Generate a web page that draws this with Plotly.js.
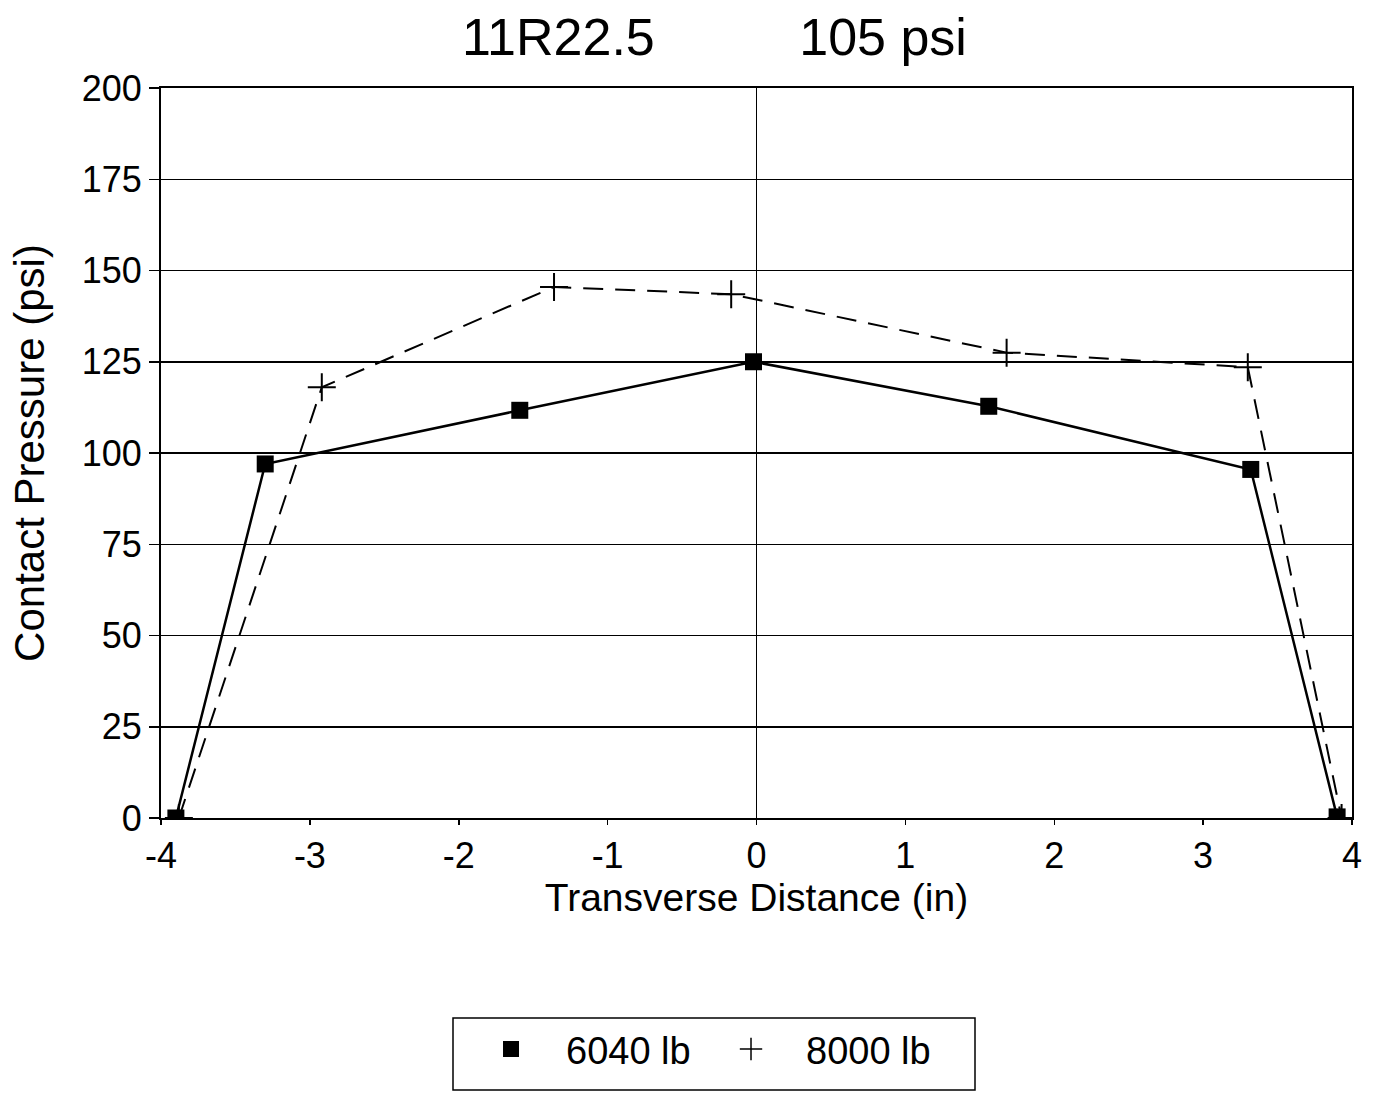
<!DOCTYPE html>
<html>
<head>
<meta charset="utf-8">
<script src="https://cdn.plot.ly/plotly-3.0.1.min.js"></script>
<style>html,body{margin:0;padding:0;background:#fff;}#chart{width:1382px;height:1093px;}</style>
</head>
<body>
<div id="chart"></div>
<script>
const seriesNames = ["6040 lb", "8000 lb"];
const x6040 = [-3.90, -3.30, -1.59, -0.02, 1.56, 3.32, 3.90];
const y6040 = [0, 97, 111.7, 125, 112.8, 95.5, 0.3];
const x8000 = [-3.88, -2.92, -1.36, -0.17, 1.68, 3.30, 3.93];
const y8000 = [0, 118, 145.5, 143.5, 127.5, 123.5, 0];
const xTicks = [-4, -3, -2, -1, 0, 1, 2, 3, 4];
const yTicks = [0, 25, 50, 75, 100, 125, 150, 175, 200];
const chartTitle = "11R22.5\u00A0\u00A0\u00A0\u00A0\u00A0\u00A0\u00A0\u00A0\u00A0\u00A0105 psi";
const xTitle = "Transverse Distance (in)";
const yTitle = "Contact Pressure (psi)";

const FONT = "Liberation Sans, Arial, sans-serif";

const traces = [
  {
    x: x8000, y: y8000, type: "scatter", mode: "lines+markers", name: seriesNames[1],
    showlegend: false,
    line: {color: "#000", width: 2, dash: "20px,12px"},
    marker: {symbol: "cross-thin-open", size: 20, color: "#000", line: {color: "#000", width: 2}}
  },
  {
    x: x6040, y: y6040, type: "scatter", mode: "lines+markers", name: seriesNames[0],
    showlegend: false,
    line: {color: "#000", width: 2.5},
    marker: {symbol: "square", size: 17, color: "#000"}
  },
  {
    x: [null], y: [null], type: "scatter", mode: "markers", name: seriesNames[0],
    marker: {symbol: "square", size: 17, color: "#000"}
  },
  {
    x: [null], y: [null], type: "scatter", mode: "markers", name: seriesNames[1],
    marker: {symbol: "cross-thin-open", size: 16, color: "#000", line: {color: "#000", width: 1.5}}
  }
];

const layout = {
  width: 1382, height: 1093,
  paper_bgcolor: "#fff", plot_bgcolor: "#fff",
  margin: {l: 161, r: 30, t: 88, b: 275, autoexpand: false},
  font: {family: FONT, color: "#000"},
  title: {
    text: chartTitle, font: {family: FONT, size: 52, color: "#000"},
    xref: "container", x: 0.517, xanchor: "center",
    yref: "container", y: 0.966, yanchor: "middle"
  },
  xaxis: {
    range: [-4, 4], tickvals: xTicks, ticktext: xTicks.map(String),
    automargin: false,
    showgrid: false, zeroline: true, zerolinecolor: "#000", zerolinewidth: 1.5,
    showline: true, linecolor: "#000", linewidth: 2, mirror: true,
    ticks: "outside", ticklen: 5, tickwidth: 1.5, tickcolor: "#000",
    tickfont: {family: FONT, size: 36, color: "#000"},
    title: {text: xTitle, font: {family: FONT, size: 39, color: "#000"}, standoff: 4}
  },
  yaxis: {
    range: [0, 200], tickvals: yTicks, ticktext: yTicks.map(String),
    automargin: false,
    showgrid: true, gridcolor: "#000", gridwidth: 1.5, zeroline: false,
    showline: true, linecolor: "#000", linewidth: 2, mirror: true,
    ticks: "outside", ticklen: 10, tickwidth: 1.5, tickcolor: "#000",
    tickfont: {family: FONT, size: 36, color: "#000"},
    title: {text: yTitle, font: {family: FONT, size: 42, color: "#000"}, standoff: 24}
  },
  showlegend: true,
  legend: {
    orientation: "h", x: 0.2477, xanchor: "left", y: -0.2736, yanchor: "top",
    font: {family: FONT, size: 38, color: "#000"},
    bgcolor: "rgba(0,0,0,0)", borderwidth: 0, itemwidth: 100, entrywidth: 125
  },
  shapes: [
    {type: "rect", xref: "paper", yref: "paper",
     x0: (453 - 161) / 1191, x1: (975 - 161) / 1191,
     y0: (818 - 1090) / 730, y1: (818 - 1018) / 730,
     line: {color: "#000", width: 1.5}, fillcolor: "rgba(0,0,0,0)"}
  ]
};

Plotly.newPlot("chart", traces, layout, {displayModeBar: false, staticPlot: true});
</script>
</body>
</html>
